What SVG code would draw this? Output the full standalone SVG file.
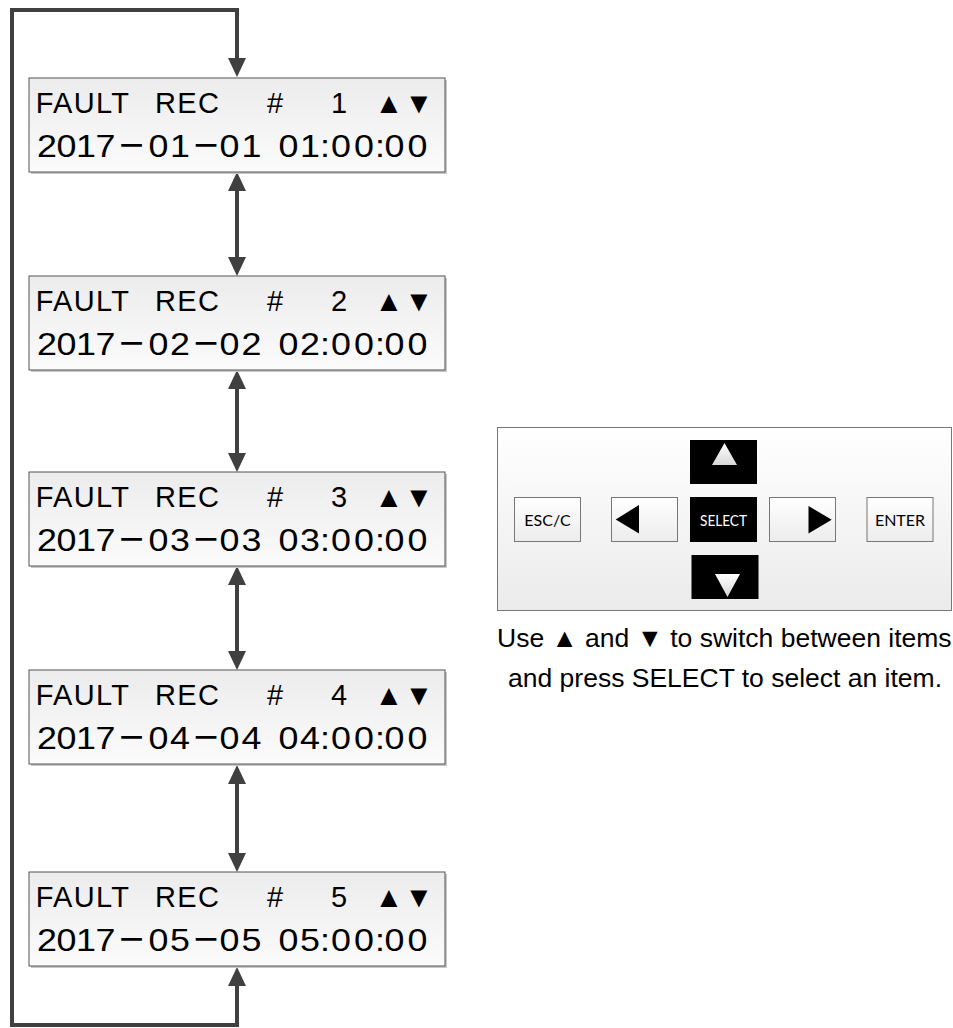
<svg xmlns="http://www.w3.org/2000/svg" width="953" height="1028" viewBox="0 0 953 1028">
<defs>
<linearGradient id="gBox" x1="0" y1="0" x2="0" y2="1"><stop offset="0" stop-color="#ececec"/><stop offset="1" stop-color="#fbfbfb"/></linearGradient>
<linearGradient id="gPanel" x1="0" y1="0" x2="0" y2="1"><stop offset="0" stop-color="#ffffff"/><stop offset="1" stop-color="#ebebeb"/></linearGradient>
<linearGradient id="gBtn" x1="0" y1="0" x2="0" y2="1"><stop offset="0" stop-color="#ffffff"/><stop offset="1" stop-color="#ececec"/></linearGradient>
<linearGradient id="gTri" x1="0" y1="0" x2="0" y2="1"><stop offset="0" stop-color="#ffffff"/><stop offset="1" stop-color="#d8d8d8"/></linearGradient>
<marker id="ah" markerUnits="userSpaceOnUse" markerWidth="20" markerHeight="20" viewBox="0 0 20 20" refX="0" refY="10" orient="auto-start-reverse"><path d="M0,1 L19,10 L0,19 Z" fill="#404040"/></marker>
</defs>
<style>
.sh{fill:#c8c8c8}
.box{fill:url(#gBox);stroke:#555;stroke-width:1}
.t1{font-family:"Liberation Sans",Arial,sans-serif;font-size:29px;fill:#000;letter-spacing:1.3px}
.t2{font-family:"Liberation Sans","Noto Sans CJK SC",Arial,sans-serif;font-size:32px;fill:#000}
.dash{font-family:"Noto Sans CJK SC","Liberation Sans",sans-serif;font-size:26px;font-weight:700}
.con{fill:none;stroke:#404040;stroke-width:4;marker-start:url(#ah);marker-end:url(#ah)}
.btn{fill:url(#gBtn);stroke:#777;stroke-width:1}
.bk{fill:#000}
.bt{font-family:Lato,"Open Sans",sans-serif;font-size:16px;fill:#000;text-anchor:middle}
.cap{font-family:"Liberation Sans",Arial,sans-serif;font-size:26.5px;fill:#000}
</style>
<g id="connectors">
<path class="con" d="M237,986 V1025 H12 V10 H237 V58"/>
<path class="con" d="M237,191 V257"/>
<path class="con" d="M237,389 V453"/>
<path class="con" d="M237,585 V651"/>
<path class="con" d="M237,784 V853"/>
</g>
<g id="rec1">
<rect class="sh" x="31" y="80" width="416" height="94"/>
<rect class="box" x="29" y="78" width="416" height="94"/>
<text class="t1" y="113"><tspan x="35.7">FAULT</tspan><tspan x="155">REC</tspan><tspan x="267">#</tspan><tspan x="331">1</tspan><tspan x="374.5">▲▼</tspan></text>
<text class="t2" y="157.5" transform="scale(1.12 1)"><tspan x="33.04 50.45 67.86 85.27">2017</tspan><tspan class="dash" x="104.4" y="155.5">－</tspan><tspan x="132.59 151.79" y="157.5">01</tspan><tspan class="dash" x="170.9" y="155.5">－</tspan><tspan x="195.98 215.63 233.93 248.66 267.86 285.71 295.54 316.07 334.82 343.30 363.84" y="157.5">01 01:00:00</tspan></text>
</g>
<g id="rec2">
<rect class="sh" x="31" y="278" width="416" height="94"/>
<rect class="box" x="29" y="276" width="416" height="94"/>
<text class="t1" y="311"><tspan x="35.7">FAULT</tspan><tspan x="155">REC</tspan><tspan x="267">#</tspan><tspan x="331">2</tspan><tspan x="374.5">▲▼</tspan></text>
<text class="t2" y="355.5" transform="scale(1.12 1)"><tspan x="33.04 50.45 67.86 85.27">2017</tspan><tspan class="dash" x="104.4" y="353.5">－</tspan><tspan x="132.59 151.79" y="355.5">02</tspan><tspan class="dash" x="170.9" y="353.5">－</tspan><tspan x="195.98 215.63 233.93 248.66 267.86 285.71 295.54 316.07 334.82 343.30 363.84" y="355.5">02 02:00:00</tspan></text>
</g>
<g id="rec3">
<rect class="sh" x="31" y="474" width="416" height="94"/>
<rect class="box" x="29" y="472" width="416" height="94"/>
<text class="t1" y="507"><tspan x="35.7">FAULT</tspan><tspan x="155">REC</tspan><tspan x="267">#</tspan><tspan x="331">3</tspan><tspan x="374.5">▲▼</tspan></text>
<text class="t2" y="551.5" transform="scale(1.12 1)"><tspan x="33.04 50.45 67.86 85.27">2017</tspan><tspan class="dash" x="104.4" y="549.5">－</tspan><tspan x="132.59 151.79" y="551.5">03</tspan><tspan class="dash" x="170.9" y="549.5">－</tspan><tspan x="195.98 215.63 233.93 248.66 267.86 285.71 295.54 316.07 334.82 343.30 363.84" y="551.5">03 03:00:00</tspan></text>
</g>
<g id="rec4">
<rect class="sh" x="31" y="672" width="416" height="94"/>
<rect class="box" x="29" y="670" width="416" height="94"/>
<text class="t1" y="705"><tspan x="35.7">FAULT</tspan><tspan x="155">REC</tspan><tspan x="267">#</tspan><tspan x="331">4</tspan><tspan x="374.5">▲▼</tspan></text>
<text class="t2" y="749.5" transform="scale(1.12 1)"><tspan x="33.04 50.45 67.86 85.27">2017</tspan><tspan class="dash" x="104.4" y="747.5">－</tspan><tspan x="132.59 151.79" y="749.5">04</tspan><tspan class="dash" x="170.9" y="747.5">－</tspan><tspan x="195.98 215.63 233.93 248.66 267.86 285.71 295.54 316.07 334.82 343.30 363.84" y="749.5">04 04:00:00</tspan></text>
</g>
<g id="rec5">
<rect class="sh" x="31" y="874" width="416" height="94"/>
<rect class="box" x="29" y="872" width="416" height="94"/>
<text class="t1" y="907"><tspan x="35.7">FAULT</tspan><tspan x="155">REC</tspan><tspan x="267">#</tspan><tspan x="331">5</tspan><tspan x="374.5">▲▼</tspan></text>
<text class="t2" y="951.5" transform="scale(1.12 1)"><tspan x="33.04 50.45 67.86 85.27">2017</tspan><tspan class="dash" x="104.4" y="949.5">－</tspan><tspan x="132.59 151.79" y="951.5">05</tspan><tspan class="dash" x="170.9" y="949.5">－</tspan><tspan x="195.98 215.63 233.93 248.66 267.86 285.71 295.54 316.07 334.82 343.30 363.84" y="951.5">05 05:00:00</tspan></text>
</g>
<g id="keypad">
<rect x="497.5" y="427.5" width="454" height="183" fill="url(#gPanel)" stroke="#777" stroke-width="1"/>
<g id="key-esc"><rect class="btn" x="514.5" y="497.5" width="66" height="44"/><text class="bt" x="547.5" y="525.5">ESC/C</text></g>
<g id="key-left"><rect class="btn" x="611.5" y="497.5" width="66" height="44"/><polygon class="bk" points="615.7,519.5 639,505 639,533.5"/></g>
<g id="key-up"><rect class="bk" x="690" y="440" width="67" height="44"/><polygon fill="url(#gTri)" points="724.5,443 712,465 737,465"/></g>
<g id="key-select"><rect class="bk" x="690" y="497" width="67" height="45"/><text class="bt" x="723.5" y="525.5" style="fill:#fff" textLength="47" lengthAdjust="spacingAndGlyphs">SELECT</text></g>
<g id="key-down"><rect class="bk" x="691.5" y="555" width="67" height="44"/><polygon fill="url(#gTri)" points="715,574 740,574 727.5,597"/></g>
<g id="key-right"><rect class="btn" x="769.5" y="497.5" width="66" height="44"/><polygon class="bk" points="808.5,506 808.5,533.5 831.7,519.7"/></g>
<g id="key-enter"><rect class="btn" x="867" y="497.5" width="66" height="44"/><text class="bt" x="900" y="525.5">ENTER</text></g>
</g>
<g id="caption">
<text class="cap" x="497" y="647">Use ▲ and ▼ to switch between items</text>
<text class="cap" x="508" y="687">and press SELECT to select an item.</text>
</g>
</svg>
